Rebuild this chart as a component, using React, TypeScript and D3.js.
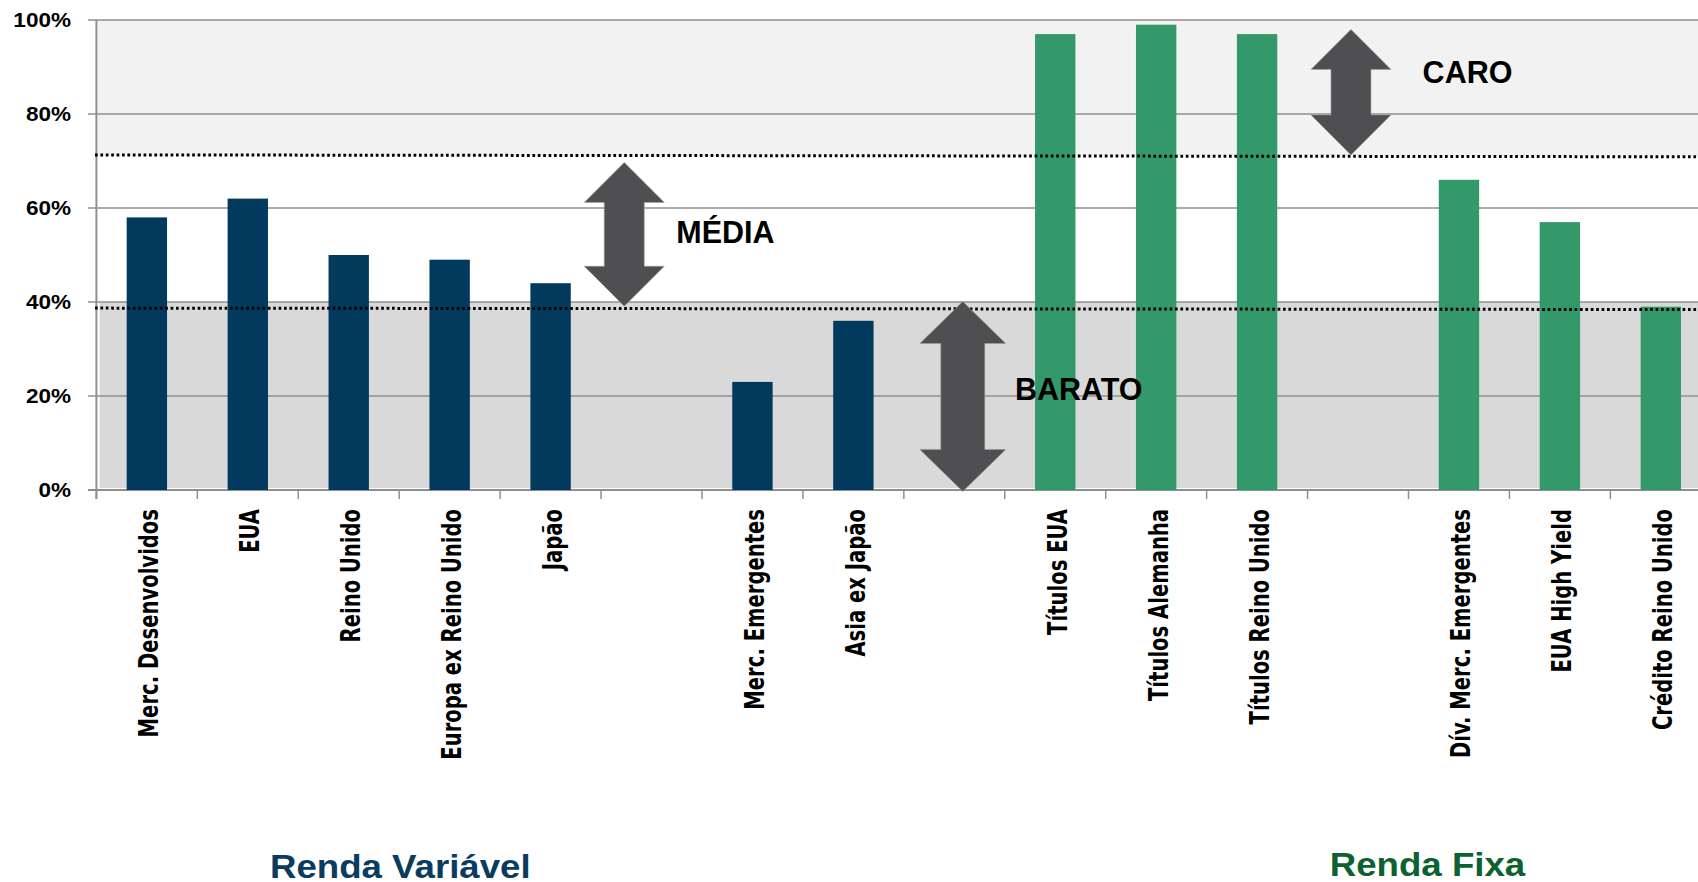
import React from "react";
import * as d3 from "d3";

// ---------- data ----------
const categories = [
  "Merc. Desenvolvidos",
  "EUA",
  "Reino Unido",
  "Europa ex Reino Unido",
  "Japão",
  "",
  "Merc. Emergentes",
  "Asia ex Japão",
  "",
  "Títulos EUA",
  "Títulos Alemanha",
  "Títulos Reino Unido",
  "",
  "Dív. Merc. Emergentes",
  "EUA High Yield",
  "Crédito Reino Unido",
];
const values: (number | null)[] = [58, 62, 50, 49, 44, null, 23, 36, null, 97, 99, 97, null, 66, 57, 39];
const groupOf = ["RV", "RV", "RV", "RV", "RV", "RV", "RV", "RV", "RF", "RF", "RF", "RF", "RF", "RF", "RF", "RF"];
const yTicks = [0, 20, 40, 60, 80, 100];

// threshold lines (value at left end, value at right end)
const upperLine = [71.3, 70.9];
const lowerLine = [38.7, 38.4];
const expensiveBand = [71, 100];
const cheapBand = [0, 40];

// annotations: arrows (x in category units, y range in %)
const arrowX = [5.23, 8.584, 12.43];
const arrowTop = [69.7, 40.1, 98];
const arrowBottom = [39.1, -0.3, 71.3];
const arrowLabels = ["MÉDIA", "BARATO", "CARO"];
const labelX = [5.746, 9.101, 13.14];
const labelY = [52.5, 19.1, 86.7];

const groupTitles = ["Renda Variável", "Renda Fixa"];
const groupTitleX = [1.72, 12.22];

// ---------- layout ----------
const W = 1698;
const H = 882;
const x0 = 96.4;
const step = 100.93;
const n = categories.length;

const COLORS: Record<string, string> = { RV: "#023a5e", RF: "#33996a" };
const TITLE_COLORS = ["#0b3c60", "#0c6130"];
const GRID = "#8f8f8f";

export default function App() {
  const x = d3
    .scaleBand<number>()
    .domain(d3.range(n))
    .range([x0, x0 + n * step])
    .paddingInner(0.6)
    .paddingOuter(0.3);
  const xi = d3.scaleLinear().domain([0, n]).range([x0, x0 + n * step]);
  const y = d3.scaleLinear().domain([0, 100]).range([490, 20]);

  const arrowPath = (cx: number, yt: number, yb: number, hw: number, sw: number, hh: number) =>
    [
      [cx, yt],
      [cx + hw / 2, yt + hh],
      [cx + sw / 2, yt + hh],
      [cx + sw / 2, yb - hh],
      [cx + hw / 2, yb - hh],
      [cx, yb],
      [cx - hw / 2, yb - hh],
      [cx - sw / 2, yb - hh],
      [cx - sw / 2, yt + hh],
      [cx - hw / 2, yt + hh],
    ]
      .map((p, i) => (i ? "L" : "M") + p[0] + "," + p[1])
      .join("") + "Z";
  const arrowDims = [
    [80, 40, 40],
    [86, 44, 42],
    [80, 40, 40],
  ];

  const right = W + 20;
  const lineGen = d3.line<[number, number]>().x((d) => d[0]).y((d) => d[1]);

  return (
    <svg
      width={W}
      height={H}
      style={{ position: "absolute", left: 0, top: 0, background: "#fff" }}
    >
      {/* background bands */}
      <rect x={97.7} y={y(expensiveBand[1])} width={right - 97.7} height={y(expensiveBand[0]) - y(expensiveBand[1])} fill="#f2f2f2" />
      <rect x={99.5} y={y(cheapBand[1])} width={right - 99.5} height={y(cheapBand[0]) - y(cheapBand[1]) - 2} fill="#d9d9d9" />

      {/* gridlines */}
      {yTicks.map((t) => (
        <line key={t} x1={88} x2={right} y1={y(t)} y2={y(t)} stroke={GRID} strokeWidth={1.5} />
      ))}
      {/* y axis */}
      <line x1={x0} x2={x0} y1={y(100)} y2={499} stroke={GRID} strokeWidth={2} />
      {/* x axis */}
      <line x1={88} x2={right} y1={y(0)} y2={y(0)} stroke={GRID} strokeWidth={2} />
      {d3.range(n + 1).map((i) => (
        <line key={i} x1={xi(i)} x2={xi(i)} y1={y(0)} y2={499} stroke={GRID} strokeWidth={1.5} />
      ))}

      {/* bars */}
      {values.map((v, i) =>
        v == null ? null : (
          <rect key={i} x={x(i)} y={y(v)} width={x.bandwidth()} height={y(0) - y(v)} fill={COLORS[groupOf[i]]} />
        )
      )}

      {/* dotted threshold lines */}
      {[upperLine, lowerLine].map((l, k) => (
        <path
          key={k}
          d={lineGen([
            [95, y(l[0])],
            [W, y(l[1])],
          ]) as string}
          stroke="#000"
          strokeWidth={3}
          strokeDasharray="2.7 2.7"
          fill="none"
        />
      ))}

      {/* arrows */}
      {arrowX.map((ax, i) => (
        <path
          key={i}
          d={arrowPath(xi(ax), y(arrowTop[i]), y(arrowBottom[i]), arrowDims[i][0], arrowDims[i][1], arrowDims[i][2])}
          fill="#4f4f51"
          stroke="#a0a0a0"
          strokeWidth={0.6}
        />
      ))}
      {arrowLabels.map((t, i) => (
        <text
          key={t}
          x={xi(labelX[i])}
          y={y(labelY[i])}
          fontFamily="'Liberation Sans', Arial, sans-serif"
          fontWeight="bold"
          fontSize={30.5}
          fill="#000"
        >
          {t}
        </text>
      ))}

      {/* y tick labels */}
      {yTicks.map((t) => (
        <text
          key={t}
          transform={`translate(71,${y(t)}) scale(1.1,1)`}
          textAnchor="end"
          dy="0.36em"
          fontFamily="'Liberation Sans', Arial, sans-serif"
          fontWeight="bold"
          fontSize={20.5}
          fill="#000"
        >
          {t + "%"}
        </text>
      ))}

      {/* category labels */}
      {categories.map((c, i) =>
        c ? (
          <text
            key={i}
            transform={`translate(${(x(i) as number) + x.bandwidth() / 2 + 11.5},509) rotate(-90) scale(1,1.37)`}
            textAnchor="end"
            fontFamily="'DejaVu Sans', Verdana, sans-serif"
            fontWeight="bold"
            fontSize={19.6}
            fill="#000"
          >
            {c}
          </text>
        ) : null
      )}

      {/* group titles */}
      {groupTitles.map((g, i) => (
        <text
          key={g}
          transform={`translate(${xi(groupTitleX[i])},${i === 0 ? 878 : 876}) scale(1.11,1)`}
          fontFamily="'Liberation Sans', Arial, sans-serif"
          fontWeight="bold"
          fontSize={33}
          fill={TITLE_COLORS[i]}
        >
          {g}
        </text>
      ))}
    </svg>
  );
}
